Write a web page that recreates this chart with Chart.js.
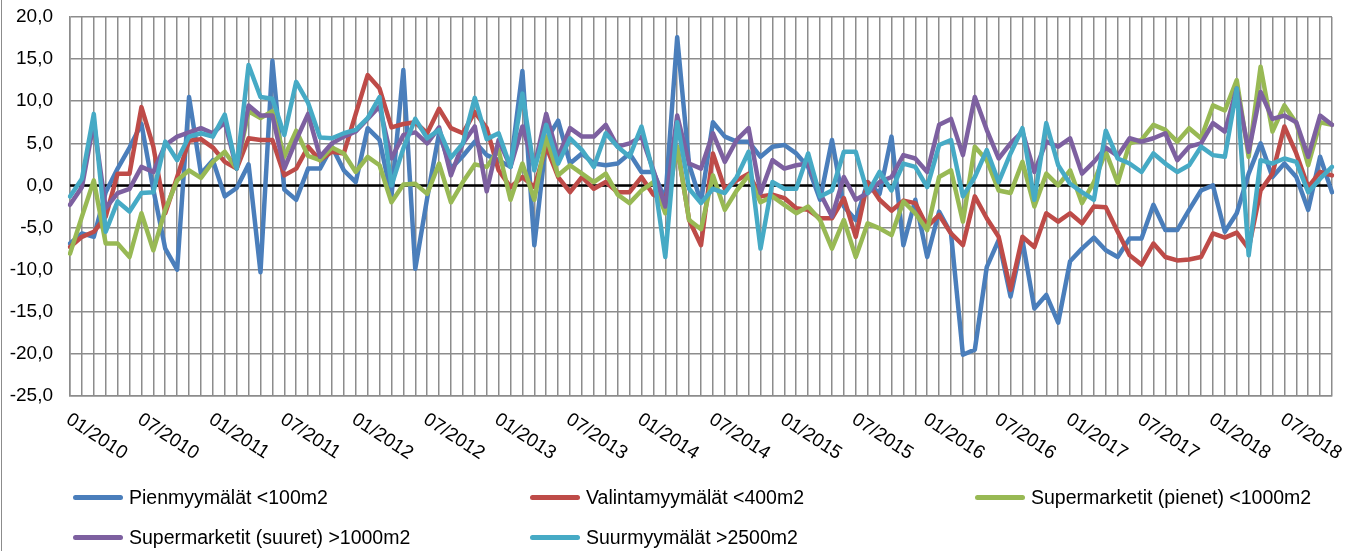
<!DOCTYPE html>
<html>
<head>
<meta charset="utf-8">
<script src="https://cdn.jsdelivr.net/npm/chart.js@4"></script>
<style>
  body { margin: 0; background: #fff; }
  .wrap { position: relative; width: 1361px; height: 551px; }
  .frame { position: absolute; left: 1px; top: 0; width: 1px; height: 551px; background: #8c8c8c; }
  #legend {
    position: absolute; left: 73px; top: 484px;
    display: grid; grid-template-columns: 457px 445px auto; row-gap: 14px;
    font: 19.5px "Liberation Sans", Arial, sans-serif; color: #000;
  }
  #legend .item { display: flex; align-items: center; height: 26px; white-space: nowrap; }
  #legend .swatch { width: 50px; height: 5px; border-radius: 3px; margin-right: 6px; }
</style>
</head>
<body>
<div class="wrap">
  <canvas id="chart" width="1361" height="551"></canvas>
  <div class="frame"></div>
  <div id="legend"></div>
</div>
<script>
const months = [
  '01/2010','02/2010','03/2010','04/2010','05/2010','06/2010','07/2010','08/2010','09/2010','10/2010','11/2010','12/2010',
  '01/2011','02/2011','03/2011','04/2011','05/2011','06/2011','07/2011','08/2011','09/2011','10/2011','11/2011','12/2011',
  '01/2012','02/2012','03/2012','04/2012','05/2012','06/2012','07/2012','08/2012','09/2012','10/2012','11/2012','12/2012',
  '01/2013','02/2013','03/2013','04/2013','05/2013','06/2013','07/2013','08/2013','09/2013','10/2013','11/2013','12/2013',
  '01/2014','02/2014','03/2014','04/2014','05/2014','06/2014','07/2014','08/2014','09/2014','10/2014','11/2014','12/2014',
  '01/2015','02/2015','03/2015','04/2015','05/2015','06/2015','07/2015','08/2015','09/2015','10/2015','11/2015','12/2015',
  '01/2016','02/2016','03/2016','04/2016','05/2016','06/2016','07/2016','08/2016','09/2016','10/2016','11/2016','12/2016',
  '01/2017','02/2017','03/2017','04/2017','05/2017','06/2017','07/2017','08/2017','09/2017','10/2017','11/2017','12/2017',
  '01/2018','02/2018','03/2018','04/2018','05/2018','06/2018','07/2018','08/2018','09/2018','10/2018','11/2018'
];

const tickLabels = ['01/2010','07/2010','01/2011','07/2011','01/2012','07/2012','01/2013','07/2013','01/2014',
  '07/2014','01/2015','07/2015','01/2016','07/2016','01/2017','07/2017','01/2018','07/2018'];

const seriesNames = [
  'Pienmyymälät <100m2',
  'Valintamyymälät <400m2',
  'Supermarketit (pienet) <1000m2',
  'Supermarketit (suuret) >1000m2',
  'Suurmyymälät >2500m2'
];

const pienmyymalat = [
  -6.9, -5.7, -6.1, -0.8, 2.0, 4.5, 7.3, -0.5, -7.5, -10.0, 10.5, 1.4,
  3.0, -1.3, -0.3, 2.5, -10.3, 14.8, -0.5, -1.7, 2.0, 2.0, 4.6, 1.8,
  0.4, 6.8, 5.4, -1.3, 13.7, -9.9, -1.5, 6.2, 2.0, 3.5, 5.2, 3.6,
  3.0, 2.2, 13.6, -7.1, 5.4, 7.7, 2.6, 3.8, 2.6, 2.4, 2.6, 3.8,
  1.6, 1.6, -1.7, 17.6, 2.5, -2.0, 7.5, 5.8, 5.2, 5.2, 3.4, 4.6,
  4.8, 3.8, 2.2, -1.7, 5.4, -2.5, -4.1, 0.4, -1.0, 5.8, -7.1, -1.7,
  -8.5, -3.1, -5.7, -20.1, -19.5, -9.7, -6.5, -13.2, -6.5, -14.6, -13.0, -16.3,
  -9.0, -7.5, -6.2, -7.7, -8.5, -6.3, -6.3, -2.3, -5.3, -5.3, -2.9, -0.6,
  0.0, -5.5, -3.3, 1.4, 5.0, 1.0, 2.6, 1.0, -2.9, 3.4, -0.8
];

const valintamyymalat = [
  -7.3, -6.1, -5.5, -3.7, 1.4, 1.4, 9.3, 4.6, -3.3, 1.0, 5.3, 5.5,
  4.5, 2.8, 2.0, 5.6, 5.4, 5.4, 1.2, 2.0, 4.6, 3.0, 4.0, 3.8,
  8.5, 13.1, 11.5, 6.9, 7.3, 7.5, 6.2, 9.1, 6.8, 6.2, 8.7, 6.8,
  1.8, -0.2, 1.0, -0.2, 4.6, 1.0, -0.8, 1.0, -0.4, 0.4, -0.8, -0.8,
  1.0, -1.1, -1.7, 4.6, -4.1, -7.1, 3.8, -0.4, 0.6, 1.4, -1.3, -1.1,
  -1.5, -2.7, -2.9, -3.9, -3.9, -1.5, -6.1, 0.4, -1.7, -3.0, -1.8, -2.1,
  -4.9, -3.5, -5.7, -7.1, -1.3, -3.9, -6.1, -12.4, -6.1, -7.3, -3.3, -4.3,
  -3.3, -4.5, -2.5, -2.6, -5.5, -8.3, -9.4, -6.9, -8.5, -8.9, -8.8, -8.5,
  -5.7, -6.2, -5.6, -7.5, -0.6, 1.4, 7.0, 3.8, -0.2, 1.6, 1.2
];

const supermarketitPienet = [
  -8.1, -3.7, 0.6, -6.9, -6.9, -8.5, -3.3, -7.7, -2.9, 0.6, 1.8, 0.9,
  2.8, 4.0, 2.0, 8.8, 8.0, 8.8, 3.4, 6.5, 3.5, 3.0, 4.5, 3.8,
  1.6, 3.4, 2.4, -2.0, 0.1, 0.2, -1.0, 2.6, -2.0, 0.4, 2.5, 2.2,
  4.2, -1.7, 2.6, -1.7, 5.8, 1.2, 2.4, 1.4, 0.4, 1.4, -1.1, -2.1,
  -0.6, 0.4, -3.3, 4.6, -4.1, -5.2, 1.2, -2.9, -0.6, 1.2, -2.0, -1.3,
  -2.3, -3.3, -2.5, -4.1, -7.5, -4.1, -8.5, -4.5, -5.1, -5.9, -1.9, -3.3,
  -5.3, 1.0, 1.8, -4.3, 4.6, 3.0, -0.6, -0.9, 2.8, -2.5, 1.4, 0.0,
  1.8, -2.1, 0.4, 4.0, 0.3, 5.0, 5.4, 7.2, 6.6, 5.2, 6.8, 5.6,
  9.5, 8.9, 12.5, 3.4, 14.1, 6.4, 9.5, 7.4, 2.4, 7.5, 7.2
];

const supermarketitSuuret = [
  -2.3, -0.2, 7.5, -2.7, -0.9, -0.4, 2.2, 1.6, 4.8, 5.8, 6.3, 6.8,
  6.2, 7.5, 2.0, 9.5, 8.3, 8.3, 2.0, 5.4, 8.5, 3.4, 5.0, 5.8,
  6.4, 7.9, 9.4, 3.2, 6.0, 6.3, 5.0, 6.9, 1.2, 5.0, 7.0, -0.7,
  5.4, 2.2, 7.0, 2.2, 8.5, 3.4, 6.8, 5.8, 5.8, 7.2, 4.6, 5.0,
  5.8, 1.8, -2.5, 8.3, 2.6, 2.0, 6.2, 2.8, 5.4, 6.8, -0.9, 3.0,
  2.0, 2.4, 2.6, -0.9, -3.7, 1.0, -1.7, -0.9, 0.4, 1.0, 3.6, 3.2,
  1.6, 7.2, 7.9, 3.6, 10.5, 6.6, 3.2, 5.0, 6.4, 1.6, 5.2, 4.6,
  5.6, 1.4, 2.8, 4.5, 3.5, 5.6, 5.2, 5.6, 6.2, 3.0, 4.6, 5.0,
  7.4, 6.4, 11.5, 4.0, 11.1, 7.9, 8.3, 7.5, 3.4, 8.3, 7.2
];

const suurmyymalat = [
  -1.3, 0.8, 8.5, -5.5, -1.9, -3.1, -0.9, -0.8, 5.2, 3.0, 5.8, 6.2,
  5.8, 8.4, 2.0, 14.3, 10.5, 10.3, 6.0, 12.3, 9.8, 5.7, 5.6, 6.2,
  6.6, 8.0, 10.5, 0.0, 4.4, 7.9, 5.6, 6.6, 3.3, 5.0, 10.4, 5.5,
  6.2, 2.2, 10.9, 1.8, 7.2, 2.6, 5.6, 4.2, 2.2, 6.2, 4.6, 3.4,
  7.0, 1.4, -8.5, 7.5, -0.4, -2.1, -0.4, -0.9, 1.0, 4.0, -7.5, 0.4,
  -0.4, -0.4, 3.8, -1.3, -0.6, 4.0, 4.0, -0.9, 1.6, -0.6, 2.6, 2.2,
  -0.2, 4.8, 5.4, -1.3, 1.0, 4.2, 0.4, 3.8, 6.8, -1.7, 7.4, 2.4,
  0.2, -0.8, -1.7, 6.5, 3.2, 2.6, 1.6, 3.8, 2.6, 1.6, 2.4, 4.6,
  3.6, 3.4, 11.5, -8.3, 3.0, 2.6, 3.2, 2.8, -0.8, 0.8, 2.2
];

const seriesValues = [pienmyymalat, valintamyymalat, supermarketitPienet, supermarketitSuuret, suurmyymalat];
const colors = ['#4A7EBB', '#BE4B48', '#98B954', '#7D60A0', '#46AAC5'];

const font = '"Liberation Sans", Arial, sans-serif';
const gridColor = '#8c8c8c';

// zero line in black, under the series
const zeroLine = {
  id: 'zeroLine',
  beforeDatasetsDraw(chart) {
    const { ctx, chartArea, scales } = chart;
    const y = scales.y.getPixelForValue(0);
    ctx.save();
    ctx.strokeStyle = '#000';
    ctx.lineWidth = 2.5;
    ctx.beginPath();
    ctx.moveTo(chartArea.left, y);
    ctx.lineTo(chartArea.right, y);
    ctx.stroke();
    ctx.restore();
  }
};

// x labels rotated clockwise, starting at the tick
const slantedLabels = {
  id: 'slantedLabels',
  afterDraw(chart) {
    const { ctx, scales, chartArea } = chart;
    ctx.save();
    ctx.font = '19px ' + font;
    ctx.fillStyle = '#000';
    ctx.textAlign = 'left';
    ctx.textBaseline = 'top';
    tickLabels.forEach(label => {
      const x = scales.x.getPixelForValue(months.indexOf(label));
      ctx.save();
      ctx.translate(x + 3, chartArea.bottom + 14);
      ctx.rotate(33 * Math.PI / 180);
      ctx.fillText(label, 0, 0);
      ctx.restore();
    });
    ctx.restore();
  }
};

const htmlLegend = {
  id: 'htmlLegend',
  afterUpdate(chart) {
    const box = document.getElementById('legend');
    box.innerHTML = '';
    chart.data.datasets.forEach(ds => {
      const item = document.createElement('div');
      item.className = 'item';
      const sw = document.createElement('span');
      sw.className = 'swatch';
      sw.style.background = ds.borderColor;
      const txt = document.createElement('span');
      txt.textContent = ds.label;
      item.appendChild(sw);
      item.appendChild(txt);
      box.appendChild(item);
    });
  }
};

const ctx = document.getElementById('chart').getContext('2d');

const chart = new Chart(ctx, {
  type: 'line',
  data: {
    labels: months,
    datasets: seriesNames.map((name, i) => ({
      label: name,
      data: seriesValues[i],
      borderColor: colors[i],
      backgroundColor: colors[i],
      borderWidth: 4.5,
      pointRadius: 0,
      tension: 0,
      borderJoinStyle: 'round',
      borderCapStyle: 'round',
      order: seriesNames.length - i,
    })),
  },
  options: {
    responsive: false,
    animation: false,
    layout: { padding: { top: 17, right: 29, left: 0, bottom: 0 } },
    plugins: {
      legend: { display: false },
      tooltip: { enabled: false },
    },
    scales: {
      x: {
        type: 'category',
        grid: { color: gridColor, lineWidth: 1.5, drawTicks: false },
        border: { color: gridColor, width: 1.5 },
        ticks: { display: false },
        afterFit(scale) { scale.height = 155; },
      },
      y: {
        min: -25,
        max: 20,
        grid: { color: gridColor, lineWidth: 1.5, drawTicks: false },
        border: { color: gridColor, width: 1.5 },
        ticks: {
          stepSize: 5,
          padding: 17,
          color: '#000',
          font: { family: font, size: 19 },
          callback: v => v.toFixed(1).replace('.', ','),
        },
        afterFit(scale) {
          scale.width = 70;
          scale.paddingTop = 0;
          scale.paddingBottom = 0;
        },
      },
    },
  },
  plugins: [zeroLine, slantedLabels, htmlLegend],
});
</script>
</body>
</html>
